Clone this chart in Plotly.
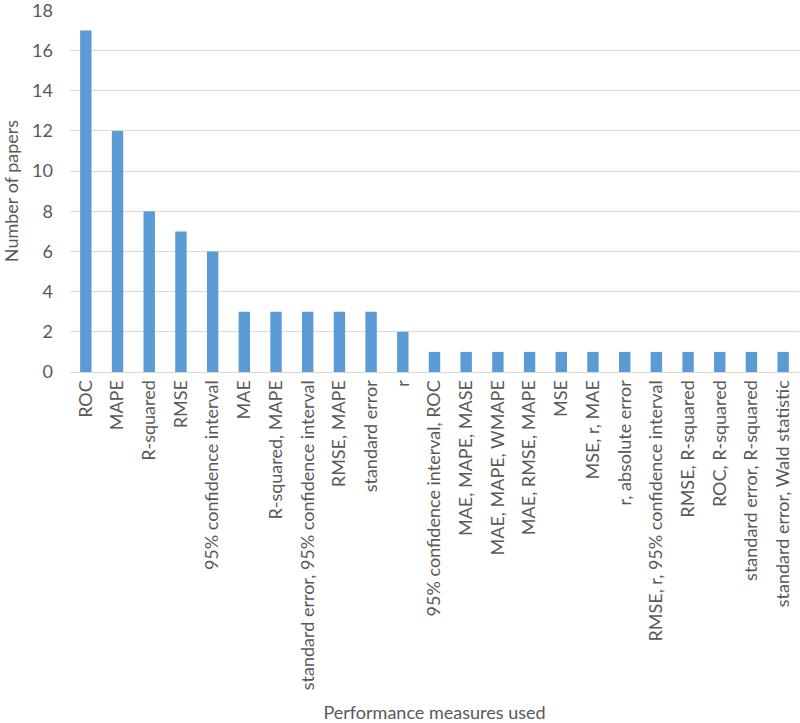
import plotly.graph_objects as go

categories = [
    "ROC", "MAPE", "R-squared", "RMSE", "95% confidence interval", "MAE",
    "R-squared, MAPE", "standard error, 95% confidence interval", "RMSE, MAPE",
    "standard error", "r", "95% confidence interval, ROC", "MAE, MAPE, MASE",
    "MAE, MAPE, WMAPE", "MAE, RMSE, MAPE", "MSE", "MSE, r, MAE",
    "r, absolute error", "RMSE, r, 95% confidence interval", "RMSE, R-squared",
    "ROC, R-squared", "standard error, R-squared", "standard error, Wald statistic",
]
counts = [17, 12, 8, 7, 6, 3, 3, 3, 3, 3, 2, 1, 1, 1, 1, 1, 1, 1, 1, 1, 1, 1, 1]
y_ticks = [0, 2, 4, 6, 8, 10, 12, 14, 16, 18]

font_family = "Lato, Open Sans, sans-serif"
gray = "#595959"

fig = go.Figure(go.Bar(x=categories, y=counts, marker_color="#5B9BD5",
                       marker_line_width=0))
fig.update_layout(
    width=800, height=723,
    margin=dict(l=70, r=1, t=10, b=351, autoexpand=False),
    plot_bgcolor="white", paper_bgcolor="white",
    bargap=0.64,
    font=dict(family=font_family, color=gray, size=18),
    showlegend=False,
)
fig.update_xaxes(
    automargin=False,
    tickangle=-90, tickfont=dict(size=18, color=gray),
    showgrid=False, showline=True, linecolor="#D9D9D9", linewidth=1,
    ticks="", range=[-0.5, len(categories) - 0.5],
    title=dict(text="Performance measures used", font=dict(size=18, color=gray),
               standoff=18),
)
fig.update_yaxes(
    automargin=False, ticklabeloverflow="allow",
    range=[0, 18.02], tickvals=y_ticks, tickfont=dict(size=18, color=gray),
    showgrid=True, gridcolor="#D9D9D9", gridwidth=1, zeroline=False,
    showline=False, ticks="", ticklabelstandoff=16,
    title=dict(text="Number of papers", font=dict(size=18, color=gray), standoff=12),
)
fig.write_html("out.html", config={"displayModeBar": False},
               post_script="document.body.style.margin='0';")
